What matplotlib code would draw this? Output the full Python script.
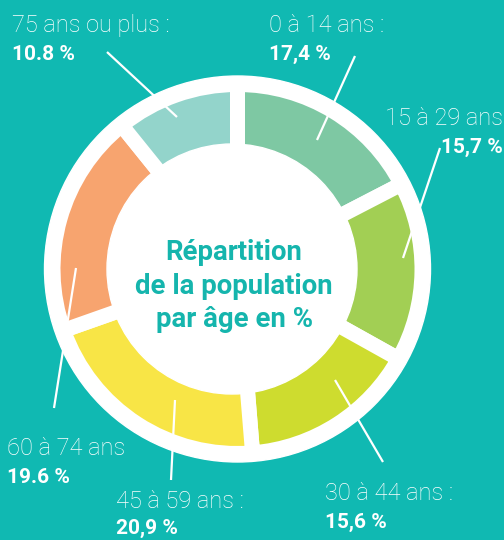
import matplotlib.pyplot as plt
from matplotlib.patches import Circle

# data
groups = ["0 à 14 ans :", "15 à 29 ans", "30 à 44 ans :", "45 à 59 ans :", "60 à 74 ans", "75 ans ou plus :"]
values = [17.4, 15.7, 15.6, 20.9, 19.6, 10.8]
value_labels = ["17,4 %", "15,7 %", "15,6 %", "20,9 %", "19.6 %", "10.8 %"]
colors = ["#7ec8a3", "#a2cf54", "#cedc2f", "#f8e546", "#f7a46f", "#93d4cb"]
title = "Répartition\nde la population\npar âge en %"

bg = "#10b9b2"
teal_txt = "#15b5ad"
H = 540  # image height in px, used to flip y

fig = plt.figure(figsize=(5.04, 5.4), dpi=100)
fig.patch.set_facecolor(bg)
ax = fig.add_axes([0, 0, 1, 1])
ax.set_facecolor(bg)

cx, cy = 237.5, H - 269

# white outer ring
ax.add_patch(Circle((cx, cy), 193, color="white", zorder=1))

# gap ~15px -> edge lw ~10.8pt, half of it eats the outer radius
wedges, _ = ax.pie(values, colors=colors, startangle=90, counterclock=False,
                   center=(cx, cy), radius=184.5, frame=True,
                   wedgeprops=dict(width=90, edgecolor="white", linewidth=10.8))
for w in wedges:
    w.set_zorder(2)

# white centre (sits a bit left of the ring centre in the original)
ax.add_patch(Circle((232, H - 269), 125, color="white", zorder=3))

ax.text(234, H - 286, title, ha="center", va="center", color=teal_txt,
        fontsize=19.8, fontweight="bold", family="Roboto", linespacing=1.3, zorder=5)

# leader lines (image px coords)
leaders = [
    ((355, 56), (317, 140)),
    ((440, 148), (403, 258)),
    ((383, 462), (335, 380)),
    ((171, 480), (175, 400)),
    ((54, 408), (76, 268)),
    ((107, 52), (177, 117)),
]
for (x0, y0), (x1, y1) in leaders:
    ax.plot([x0, x1], [H - y0, H - y1], color="white", lw=1.6, zorder=6,
            solid_capstyle="butt")

# labels: (x, baseline of first line, gap to second line, ha)
label_pos = [
    (269, 32, 28, "left"),
    (503, 125, 28, "right"),
    (325, 500, 28, "left"),
    (116, 508, 26, "left"),
    (7, 455, 28, "left"),
    (12, 32, 28, "left"),
]
for g, v, (x, y, dy, ha) in zip(groups, value_labels, label_pos):
    ax.text(x, H - y, g, ha=ha, va="baseline", color="white", fontsize=17,
            family="Roboto", fontweight="light", zorder=7)
    ax.text(x, H - y - dy, v, ha=ha, va="baseline", color="white", fontsize=15,
            family="Roboto", fontweight="bold", zorder=7)

ax.set_xlim(0, 504)
ax.set_ylim(0, H)
ax.set_aspect("equal")
ax.axis("off")

fig.savefig("out.png", dpi=100, facecolor=bg)
